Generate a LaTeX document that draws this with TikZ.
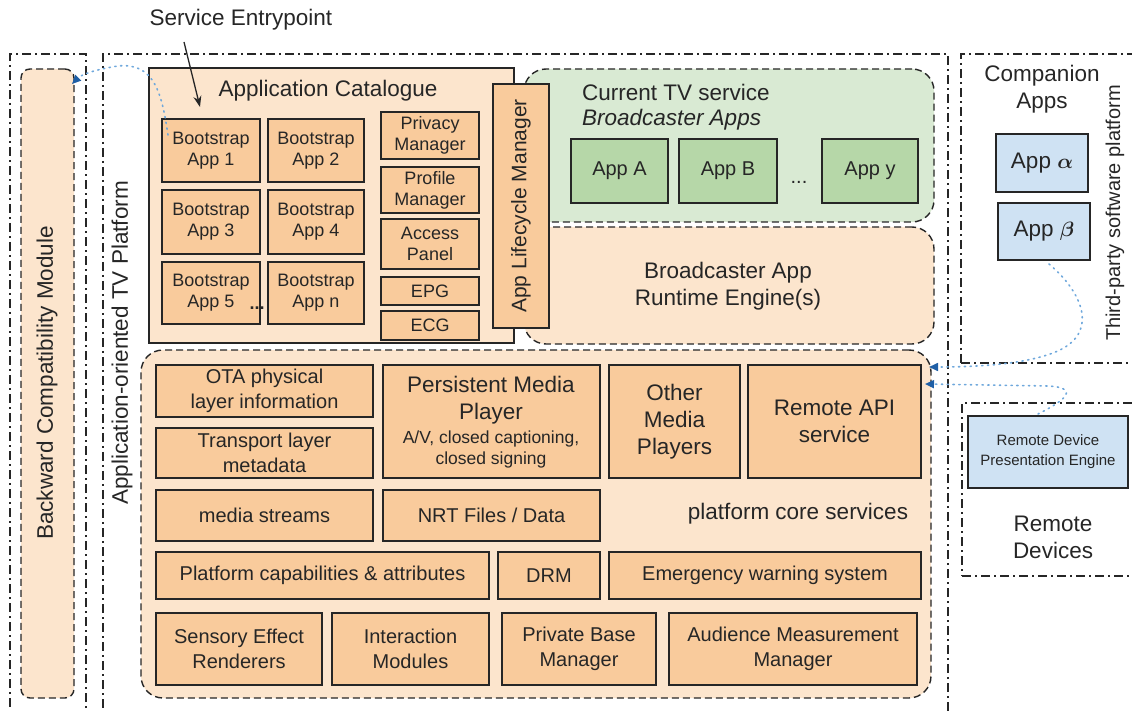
\documentclass[tikz,border=0pt]{standalone}
\usepackage{fontspec}
\setmainfont{Liberation Sans}
\usetikzlibrary{arrows.meta}
\definecolor{lor}{HTML}{FCE5CD}
\definecolor{mor}{HTML}{F9CB9C}
\definecolor{lgr}{HTML}{D9EAD3}
\definecolor{mgr}{HTML}{B6D7A8}
\definecolor{lbl}{HTML}{CFE2F3}
\definecolor{abl}{HTML}{6FA8DC}
\definecolor{abd}{HTML}{1F5FA6}
\definecolor{ink}{HTML}{262626}
\newcommand\fsA{\fontsize{22.5}{27}\selectfont}
\newcommand\fsB{\fontsize{20}{25}\selectfont}
\newcommand\fsC{\fontsize{18}{21}\selectfont}
\newcommand\fsD{\fontsize{15}{20}\selectfont}
\newcommand\fsL{\fontsize{21}{25}\selectfont}
% #1 style, #2 name, #3 x1, #4 y1, #5 x2, #6 y2, #7 text
\newcommand\bx[7][]{\node[#1, minimum width={(#5)-(#3)}, minimum height={(#6)-(#4)}] (#2) at ({((#3)+(#5))/2},{((#4)+(#6))/2}) {#7};}
\tikzset{
  fbox/.style={draw=ink, line width=1.3pt, fill=mor, align=center, inner sep=0pt, font=\fsB, text=ink},
  gbox/.style={fbox, fill=mgr},
  bbox/.style={fbox, fill=lbl},
  catbox/.style={draw=ink, line width=1.3pt, fill=lor, inner sep=0pt},
  region/.style={draw=ink, line width=1.4pt, dash pattern=on 7pt off 4pt, fill=lor, rounded corners=22pt, inner sep=0pt},
  gregion/.style={region, fill=lgr},
  frame/.style={draw=ink, line width=1.3pt, dash pattern=on 9pt off 4pt on 2pt off 4pt, inner sep=0pt},
  lbl/.style={font=\fsA, text=ink, align=center, inner sep=0pt},
  conn/.style={draw=abl, line width=1.6pt, dash pattern=on 1.3pt off 4.5pt, line cap=round, -{Triangle[length=9pt,width=8pt,color=abd,line cap=butt]}},
}
\begin{document}
\begin{tikzpicture}[x=1pt,y=-1pt]
\useasboundingbox (0,0) rectangle (1132,711);
\clip (0,0) rectangle (1132,711);

% outer frames
\bx[frame]{bcm}{10}{54}{86}{740}{}
\bx[frame]{tvp}{103}{54}{948}{740}{}
\bx[frame]{comp}{961}{54}{1160}{363}{}
\bx[frame]{rdev}{962}{403}{1160}{576}{}

% backward compatibility module
\bx[region, rounded corners=9pt]{bcin}{21}{69}{74}{698}{}
\node[lbl, rotate=90] (bcl) at (47,383) {Backward Compatibility Module};
\node[lbl, rotate=90] (tvpl) at (122,343) {Application-oriented TV Platform};

% application catalogue
\bx[catbox]{cat}{149}{68}{514}{343}{}
\node[lbl] (catl) at (328,91) {Application Catalogue};
\node[lbl] (se) at (241,20) {Service Entrypoint};

\bx[fbox, font=\fsC]{b1}{162}{119}{260}{182}{Bootstrap\\App 1}
\bx[fbox, font=\fsC]{b2}{268}{119}{364}{182}{Bootstrap\\App 2}
\bx[fbox, font=\fsC]{b3}{162}{190}{260}{254}{Bootstrap\\App 3}
\bx[fbox, font=\fsC]{b4}{268}{190}{364}{254}{Bootstrap\\App 4}
\bx[fbox, font=\fsC]{b5}{162}{262}{260}{324}{Bootstrap\\App 5}
\bx[fbox, font=\fsC]{bn}{268}{262}{364}{324}{Bootstrap\\App n}
\node[font=\fsC\bfseries, text=ink, inner sep=0pt] (bdots) at (257,308) {...};

\bx[fbox, font=\fsC]{priv}{381}{112}{479}{159}{Privacy\\Manager}
\bx[fbox, font=\fsC]{prof}{381}{167}{479}{213}{Profile\\Manager}
\bx[fbox, font=\fsC]{acc}{381}{219}{479}{269}{Access\\Panel}
\bx[fbox, font=\fsC]{epg}{381}{277}{479}{305}{EPG}
\bx[fbox, font=\fsC]{ecg}{381}{311}{479}{340}{ECG}

% current TV service
\bx[gregion]{ctv}{524}{69}{934}{222}{}
\node[lbl, anchor=west] (ctvl) at (582,92) {Current TV service};
\node[lbl, anchor=west, font=\fsA\itshape] (bal) at (582,120) {Broadcaster Apps};
\bx[gbox]{appa}{571}{139}{668}{203}{App A}
\bx[gbox]{appb}{679}{139}{777}{203}{App B}
\bx[gbox]{appy}{822}{139}{918}{203}{App y}
\node[font=\fsB, text=ink, inner sep=0pt] (adots) at (799,182) {...};

% runtime engine
\bx[region]{rte}{524}{227}{934}{344}{}
\node[lbl] (rtel) at (728,286) {Broadcaster App\\Runtime Engine(s)};

% app lifecycle manager
\bx[fbox]{alm}{493}{84}{549}{328}{}
\node[lbl, rotate=90, font=\fsL] (alml) at (alm.center) {App Lifecycle Manager};

% platform core services
\bx[region]{pcs}{141}{350}{931}{698}{}
\node[lbl] (pcsl) at (798,514) {platform core services};
\bx[fbox]{ota}{156}{365}{373}{417}{OTA physical\\layer information}
\bx[fbox]{tlm}{156}{428}{373}{478}{Transport layer\\metadata}
\bx[fbox]{pmp}{383}{365}{600}{478}{}
\node[lbl, font=\fontsize{22.5}{26.5}\selectfont] (pmpa) at (491,400) {Persistent Media\\Player};
\node[lbl, font=\fontsize{17.5}{21}\selectfont] (pmpb) at (491,449) {A/V, closed captioning,\\closed signing};
\bx[fbox, font=\fsA]{omp}{609}{365}{740}{478}{Other\\Media\\Players}
\bx[fbox, font=\fsA]{rapi}{748}{365}{921}{478}{Remote API\\service}
\bx[fbox]{ms}{156}{490}{373}{541}{media streams}
\bx[fbox]{nrt}{383}{490}{600}{541}{NRT Files / Data}
\bx[fbox]{pca}{156}{552}{489}{599}{Platform capabilities \& attributes}
\bx[fbox]{drm}{498}{552}{600}{599}{DRM}
\bx[fbox]{ews}{609}{552}{921}{599}{Emergency warning system}
\bx[fbox]{ser}{156}{613}{322}{685}{Sensory Effect\\Renderers}
\bx[fbox]{intm}{332}{613}{489}{685}{Interaction\\Modules}
\bx[fbox]{pbm}{502}{613}{656}{685}{Private Base\\Manager}
\bx[fbox]{amm}{669}{613}{917}{685}{Audience Measurement\\Manager}

% companion apps
\node[lbl] (compl) at (1042,89) {Companion\\Apps};
\bx[bbox, font=\fsA]{alpha}{996}{134}{1088}{192}{App {\boldmath$\alpha$}}
\bx[bbox, font=\fsA]{beta}{998}{203}{1090}{260}{App {\boldmath$\beta$}}
\node[lbl, rotate=90, font=\fsB] (tpl) at (1115,213) {Third-party software platform};

% remote devices
\bx[bbox, font=\fsD]{rdpe}{968}{416}{1128}{488}{Remote Device\\Presentation Engine}
\node[lbl] (rdl) at (1053,537) {Remote\\Devices};

% connectors
\coordinate (seA) at (184,42);
\coordinate (seB) at (200,107);
\draw[ink, line width=1.3pt, -{Stealth[length=11pt,width=8pt]}] (seA) -- (seB);

\coordinate (c1s) at (168,135);
\coordinate (c1e) at (72,84);
\draw[conn] (c1s) .. controls (162,95) and (155,62) .. (118,66) .. controls (98,69) and (82,74) .. (c1e);

\coordinate (c2s) at (1049,264);
\coordinate (c2e) at (929,367);
\draw[conn] (c2s) .. controls (1080,290) and (1100,330) .. (1060,350) .. controls (1030,364) and (980,367) .. (c2e);

\coordinate (c3s) at (1038,414);
\coordinate (c3e) at (925,384);
\draw[conn] (c3s) .. controls (1058,404) and (1085,388) .. (1048,386) -- (c3e);
\end{tikzpicture}
\end{document}
